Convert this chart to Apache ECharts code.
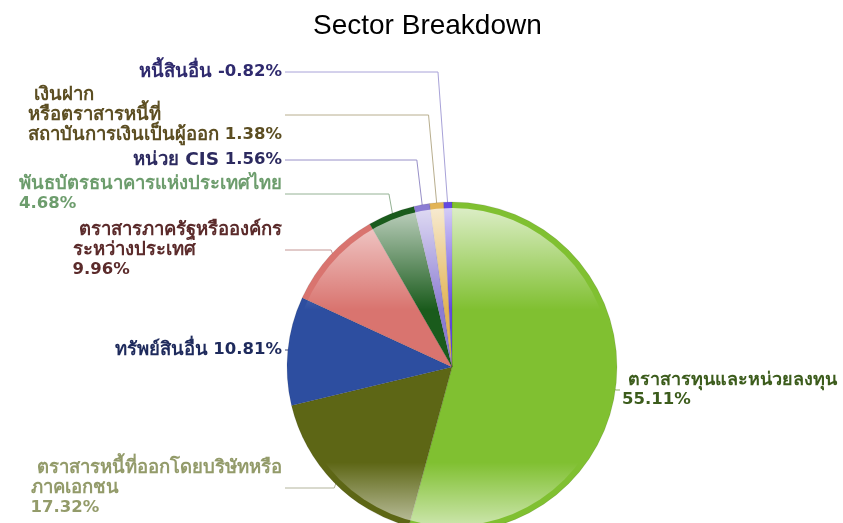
<!DOCTYPE html>
<html>
<head>
<meta charset="utf-8">
<title>Sector Breakdown</title>
<script src="https://cdn.jsdelivr.net/npm/echarts@6/dist/echarts.min.js"></script>
<style>
  html, body { margin: 0; padding: 0; background: #ffffff; }
  #chart { width: 843px; height: 523px; }
</style>
</head>
<body>
<div id="chart"></div>
<script>
// Portfolio sectors, in drawing order (clockwise from 12 o'clock)
const categories = [
  'ตราสารทุนและหน่วยลงทุน',
  'ตราสารหนี้ที่ออกโดยบริษัทหรือภาคเอกชน',
  'ทรัพย์สินอื่น',
  'ตราสารภาครัฐหรือองค์กรระหว่างประเทศ',
  'พันธบัตรธนาคารแห่งประเทศไทย',
  'หน่วย CIS',
  'เงินฝากหรือตราสารหนี้ที่สถาบันการเงินเป็นผู้ออก',
  'หนี้สินอื่น'
];

// Share of NAV in percent (negative = liability)
const percents = [55.11, 17.32, 10.81, 9.96, 4.68, 1.56, 1.38, -0.82];

// How each sector name is wrapped in its label (one entry per line)
const labelNameLines = [
  [' ตราสารทุนและหน่วยลงทุน'],
  [' ตราสารหนี้ที่ออกโดยบริษัทหรือ', 'ภาคเอกชน'],
  ['ทรัพย์สินอื่น'],
  [' ตราสารภาครัฐหรือองค์กร', 'ระหว่างประเทศ'],
  ['พันธบัตรธนาคารแห่งประเทศไทย'],
  ['หน่วย CIS'],
  [' เงินฝาก', 'หรือตราสารหนี้ที่', 'สถาบันการเงินเป็นผู้ออก'],
  ['หนี้สินอื่น']
];
// Whether the percentage goes on its own line
const valueOnNewLine = [true, true, false, true, true, false, false, false];

// Styling
const sliceColors = ['#80C031', '#5D6615', '#2D4EA0', '#D9746F', '#1A5B1C', '#8B7CD3', '#E2B456', '#6449E0'];
const textColors  = ['#3C5C1C', '#939B6A', '#1E2A5C', '#5B2B2B', '#6D9D6D', '#2C2A5F', '#5C4E22', '#2F2A6E'];
const lineColors  = ['#8AB060', '#B3B49C', '#3C4672', '#C49694', '#94B294', '#9890C8', '#B8AE8E', '#A8A2D8'];
const nameFontSizes = [18, 18.5, 18.5, 18.5, 18.5, 18.5, 18.5, 18.5];
// Vertical position of each leader line / label
const labelLineY  = [390, 488, 350, 250, 194, 160, 115, 72];

const CX = 452, CY = 367, R = 165;
const LEFT_TEXT_END = 282, LEFT_LINE_END = 285;
const RIGHT_TEXT_START = 622, RIGHT_LINE_END = 620;

const FONT = 'Tahoma, "DejaVu Sans", "Noto Sans", sans-serif';

const chart = echarts.init(document.getElementById('chart'), null, { renderer: 'canvas' });

const pieData = categories.map((name, i) => ({
  name: name,
  value: Math.abs(percents[i]),
  itemStyle: { color: sliceColors[i] },
  label: {
    rich: {
      t: { color: textColors[i], fontFamily: FONT, fontSize: nameFontSizes[i], fontWeight: 'bold', lineHeight: 20 },
      n: { color: textColors[i], fontFamily: FONT, fontSize: 16.5, fontWeight: 'bold', lineHeight: 20 }
    }
  },
  labelLine: { lineStyle: { color: lineColors[i] } }
}));

function formatLabel(p) {
  const i = p.dataIndex;
  const v = percents[i].toFixed(2) + '%';
  const lines = labelNameLines[i].map(s => '{t|' + s + '}');
  if (valueOnNewLine[i]) {
    lines.push('{n|' + v + '}');
  } else {
    lines[lines.length - 1] += '{n| ' + v + '}';
  }
  return lines.join('\n');
}

function layoutLabel(params) {
  const i = params.dataIndex;
  const pts = params.labelLinePoints;
  if (!pts) return {};
  // unit vector from centre toward the slice mid-angle
  const dx = (pts[0][0] - CX) / R;
  const dy = (pts[0][1] - CY) / R;
  const y = labelLineY[i];
  const sx = CX + dx * (R - 6);
  const sy = CY + dy * (R - 6);
  if (dx > 0) {
    return {
      x: RIGHT_TEXT_START,
      y: y,
      align: 'left',
      verticalAlign: 'middle',
      labelLinePoints: [[sx, sy], [RIGHT_LINE_END - 4, y], [RIGHT_LINE_END, y]]
    };
  }
  const bendX = sx - Math.min(10, Math.max(3, Math.abs(sy - y) * 0.06 + 3));
  return {
    x: LEFT_TEXT_END - params.labelRect.width,
    y: y,
    align: 'left',
    verticalAlign: 'middle',
    labelLinePoints: [[sx, sy], [bendX, y], [LEFT_LINE_END, y]]
  };
}

const option = {
  backgroundColor: '#ffffff',
  animation: false,
  title: {
    text: 'Sector Breakdown',
    left: 308,
    top: 7,
    textStyle: {
      fontFamily: '"Liberation Sans", Arial, sans-serif',
      fontSize: 28,
      fontWeight: 'normal',
      color: '#000000'
    }
  },
  series: [
    {
      type: 'pie',
      center: [CX, CY],
      radius: R,
      startAngle: 90,
      clockwise: true,
      avoidLabelOverlap: false,
      data: pieData,
      itemStyle: { borderColor: 'rgba(0,0,0,0.18)', borderWidth: 0.5 },
      label: {
        show: true,
        position: 'outside',
        formatter: formatLabel,
        fontFamily: FONT,
        fontSize: 17,
        fontWeight: 'bold',
        lineHeight: 20
      },
      labelLine: { show: true, length: 10, length2: 20, lineStyle: { width: 1 } },
      labelLayout: layoutLabel,
      emphasis: { disabled: true }
    },
    {
      // glossy highlight laid over the pie
      type: 'pie',
      silent: true,
      center: [CX, CY],
      radius: R - 6,
      startAngle: 90,
      label: { show: false },
      labelLine: { show: false },
      emphasis: { disabled: true },
      data: [{
        value: 1,
        itemStyle: {
          color: {
            type: 'linear', x: 0, y: 0, x2: 0, y2: 1,
            colorStops: [
              { offset: 0, color: 'rgba(255,255,255,0.72)' },
              { offset: 0.12, color: 'rgba(255,255,255,0.45)' },
              { offset: 0.32, color: 'rgba(255,255,255,0)' },
              { offset: 0.80, color: 'rgba(255,255,255,0)' },
              { offset: 1, color: 'rgba(255,255,255,0.6)' }
            ]
          }
        }
      }]
    }
  ]
};

chart.setOption(option);
</script>
</body>
</html>
